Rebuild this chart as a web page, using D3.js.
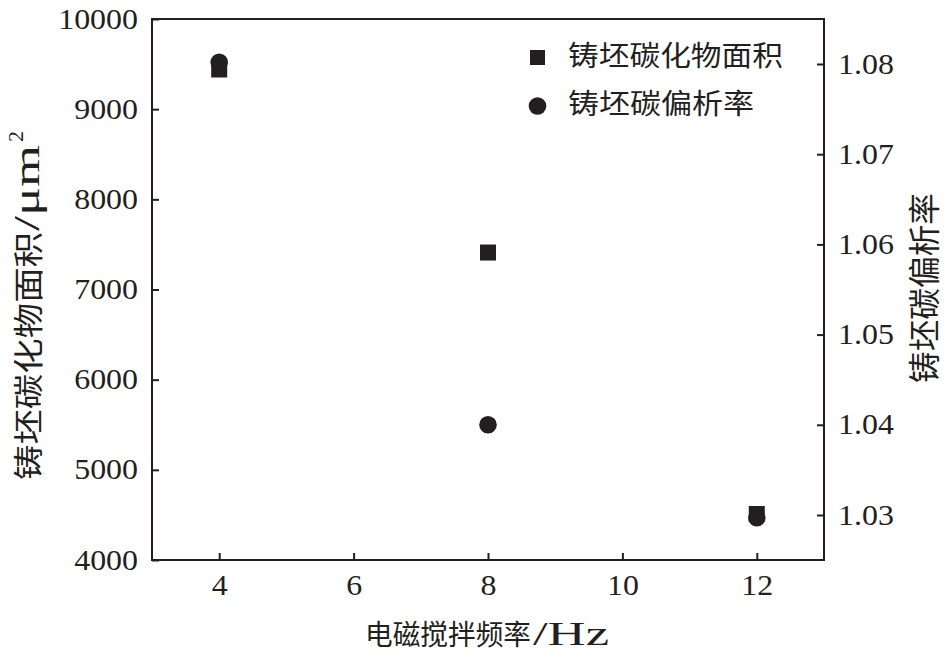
<!DOCTYPE html>
<html><head><meta charset="utf-8">
<script src="https://cdn.jsdelivr.net/npm/d3@7"></script>
<style>body{margin:0;background:#fff}svg{display:block}</style>
</head><body>
<svg id="c" width="945" height="657"></svg>
<script>
const freqs = [4, 8, 12];
const carbideArea = [9440, 7410, 4510];
const segregation = [1.0802, 1.0400, 1.0297];
const xTicks = [4, 6, 8, 10, 12];
const yLeftTicks = [4000, 5000, 6000, 7000, 8000, 9000, 10000];
const yRightTicks = [1.03, 1.04, 1.05, 1.06, 1.07, 1.08];
const seriesNames = ["铸坯碳化物面积", "铸坯碳偏析率"];
const xTitleCn = "电磁搅拌频率", xTitleUnit = "/Hz";
const yLeftTitleCn = "铸坯碳化物面积", yLeftTitleUnit = "/μm", yLeftSup = "2";
const yRightTitle = "铸坯碳偏析率";

const svg = d3.select("#c");
const m = {l:152, r:824, t:19, b:560};
const serif = "'Liberation Serif','Times New Roman',serif";
const cjk = "'Noto Sans CJK SC','Liberation Serif',serif";
const col = "#231f20";
const x = d3.scaleLinear().domain([3,13]).range([m.l,m.r]);
const yL = d3.scaleLinear().domain([4000,10000]).range([m.b,m.t]);
const yR = d3.scaleLinear().domain([1.03,1.08]).range([515,64]);

const tickLen = 7;
const stretch = 1.12;
function styleAxis(g){
  g.selectAll("path").remove();
  g.selectAll("line").attr("stroke",col).attr("stroke-width",2);
  g.selectAll("text").attr("font-family",serif).attr("font-size",28.5).attr("fill",col)
    .each(function(){
      const L = this.getComputedTextLength();
      d3.select(this).attr("textLength",L*stretch).attr("lengthAdjust","spacingAndGlyphs");
    });
}
svg.append("g").attr("transform",`translate(0,${m.b})`)
  .call(d3.axisBottom(x).tickValues(xTicks).tickSize(-tickLen).tickPadding(15).tickFormat(d3.format("d")))
  .call(styleAxis);
svg.append("g").attr("transform",`translate(${m.l},0)`)
  .call(d3.axisLeft(yL).tickValues(yLeftTicks).tickSize(-tickLen).tickPadding(14).tickFormat(d3.format("d")))
  .call(styleAxis);
svg.append("g").attr("transform",`translate(${m.r},0)`)
  .call(d3.axisRight(yR).tickValues(yRightTicks).tickSize(-tickLen).tickPadding(14).tickFormat(d3.format(".2f")))
  .call(styleAxis);

svg.append("rect").attr("x",m.l).attr("y",m.t).attr("width",m.r-m.l).attr("height",m.b-m.t)
  .attr("fill","none").attr("stroke",col).attr("stroke-width",2);

// squares
const sq = 16;
svg.append("g").selectAll("rect").data(freqs).join("rect")
  .attr("x",(d)=>x(d)-sq/2).attr("y",(d,i)=>yL(carbideArea[i])-sq/2)
  .attr("width",sq).attr("height",sq).attr("fill",col);
// circles
svg.append("g").selectAll("circle").data(freqs).join("circle")
  .attr("cx",d=>x(d)).attr("cy",(d,i)=>yR(segregation[i])).attr("r",8.8).attr("fill",col);

function txt(parent, str, fam, size, len, attrs){
  const t = parent.append("text").text(str).attr("font-family",fam).attr("font-size",size).attr("fill",col);
  if (len) t.attr("textLength",len).attr("lengthAdjust","spacingAndGlyphs");
  for (const k in attrs) t.attr(k, attrs[k]);
  return t;
}

// legend
const lg = svg.append("g");
lg.append("rect").attr("x",530).attr("y",50).attr("width",15).attr("height",15).attr("fill",col);
lg.append("circle").attr("cx",537.5).attr("cy",106).attr("r",8.8).attr("fill",col);
txt(lg, seriesNames[0], cjk, 28, 215, {x:568, y:66});
txt(lg, seriesNames[1], cjk, 28, 186, {x:568, y:114});

// x title
txt(svg, xTitleCn, cjk, 28, 166, {x:365, y:645});
txt(svg, xTitleUnit, serif, 34, 76, {x:533, y:645});

// left title (rotated, reads bottom to top)
const lt = svg.append("g").attr("transform","translate(39,480) rotate(-90)");
txt(lt, yLeftTitleCn, cjk, 30, 248, {x:0, y:0});
txt(lt, yLeftTitleUnit, serif, 36, 86, {x:249, y:0});
txt(lt, yLeftSup, serif, 20, 11, {x:338, y:-16});

// right title
const rt = svg.append("g").attr("transform","translate(936,383) rotate(-90)");
txt(rt, yRightTitle, cjk, 32, 190, {x:0, y:0});
</script>
</body></html>
